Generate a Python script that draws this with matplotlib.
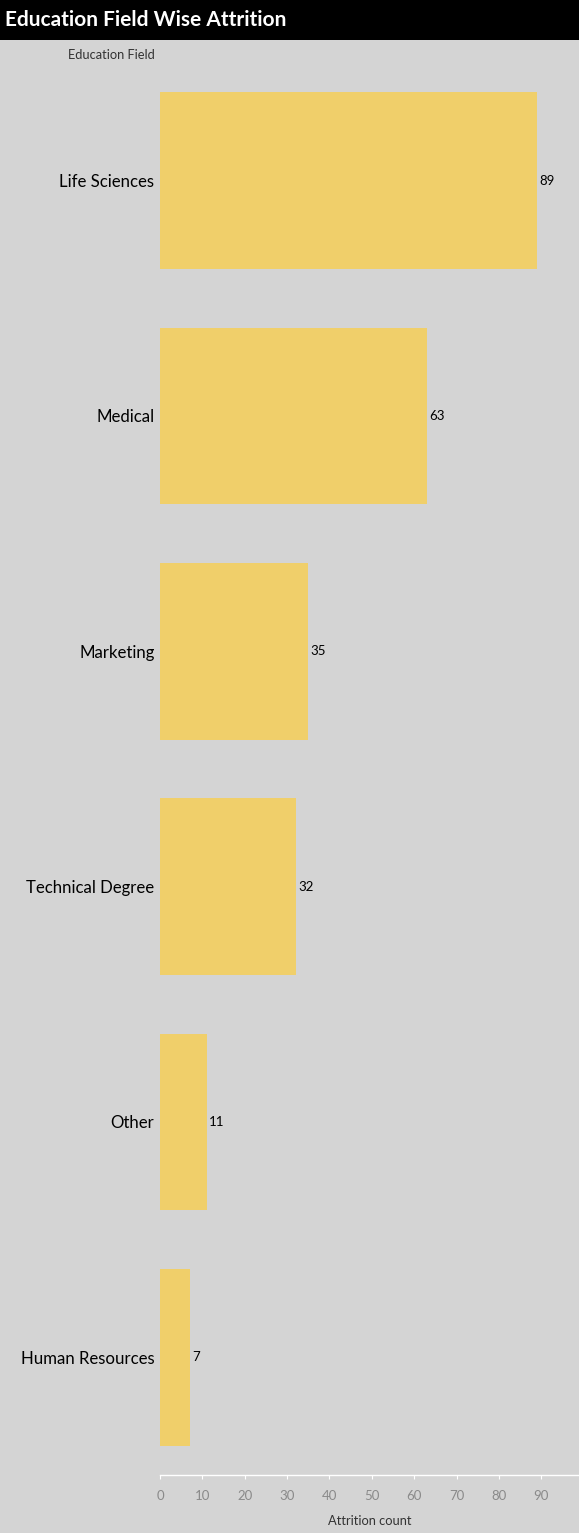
import matplotlib.pyplot as plt
from matplotlib.patches import Rectangle

categories = ["Life Sciences", "Medical", "Marketing", "Technical Degree", "Other", "Human Resources"]
values = [89, 63, 35, 32, 11, 7]
ticks = [0, 10, 20, 30, 40, 50, 60, 70, 80, 90]

W, H = 579, 1533
bg = "#d4d4d4"
bar_color = "#f0cf6a"
plt.rcParams['font.family'] = ['Lato', 'DejaVu Sans']

fig = plt.figure(figsize=(W / 100, H / 100), dpi=100, facecolor=bg)

# title bar
fig.patches.append(Rectangle((0, 1 - 40 / H), 1, 40 / H, transform=fig.transFigure,
                             facecolor="black", edgecolor="none", zorder=0))
fig.text(5 / W, 1 - 20 / H, "Education Field Wise Attrition", color="white",
         fontsize=15, fontweight="bold", va="center", ha="left")
fig.text(68 / W, 1 - 55 / H, "Education Field", color="#333333", fontsize=9.3,
         va="center", ha="left")

left = 160 / W
ax_top = 63
ax_bot = 1475
ax = fig.add_axes([left, 1 - ax_bot / H, 1 - left, (ax_bot - ax_top) / H])
ax.set_facecolor(bg)

y = list(range(len(categories)))
ax.barh(y, values, height=0.75, color=bar_color)
ax.set_ylim(len(categories) - 0.5, -0.5)
ax.set_xlim(0, 98.9)
for yi, v in zip(y, values):
    ax.text(v + 0.6, yi, str(v), va="center", ha="left", fontsize=9.5, color="black")

ax.set_yticks(y)
ax.set_yticklabels(categories, fontsize=12.1, color="black")
ax.tick_params(axis="y", length=0, pad=4)

ax.set_xticks(ticks)
ax.set_xticklabels([str(t) for t in ticks], fontsize=9.5, color="#8a8a8a")
ax.tick_params(axis="x", length=3, color="white", pad=8)
ax.set_xlabel("Attrition count", fontsize=9.3, color="#333333", labelpad=9)

for s in ["top", "right", "left"]:
    ax.spines[s].set_visible(False)
ax.spines["bottom"].set_color("white")
ax.spines["bottom"].set_linewidth(1)

fig.savefig("out.png", dpi=100, facecolor=bg)
